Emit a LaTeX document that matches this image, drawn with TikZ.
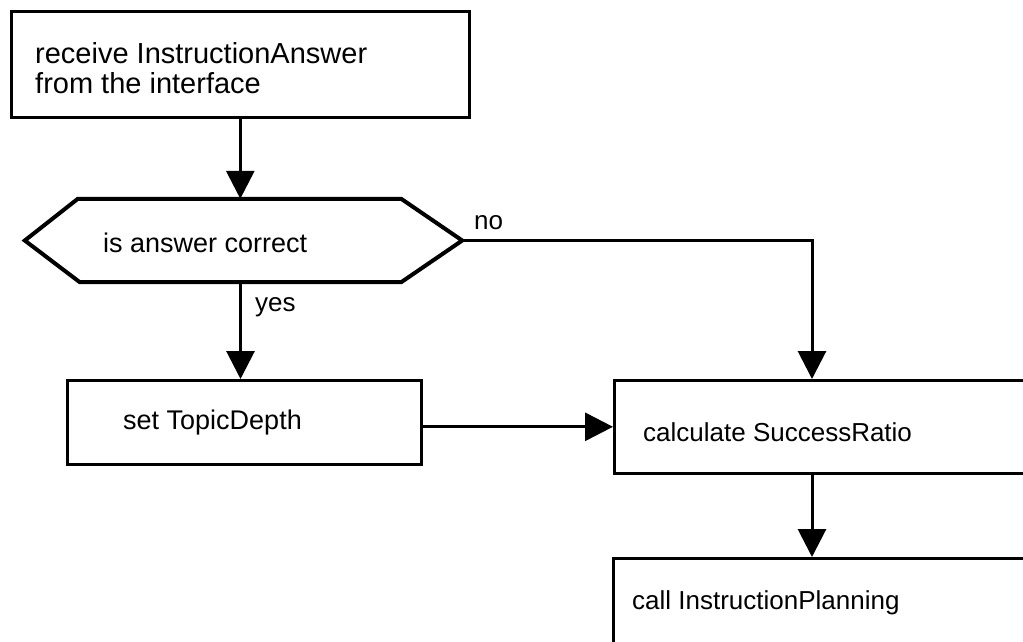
\documentclass[tikz,border=0pt]{standalone}
\usepackage{fontspec}
\setmainfont{Liberation Sans}
\usetikzlibrary{arrows.meta}

\begin{document}
\begin{tikzpicture}[x=1pt,y=-1pt,
  box/.style={draw,line width=2.6pt,rectangle,inner sep=0pt,anchor=north west},
  txt/.style={anchor=west,inner sep=0pt,align=left,font=\fontsize{26}{28.5}\selectfont},
  bigtxt/.style={txt,font=\fontsize{29}{30}\selectfont},
  midtxt/.style={txt,font=\fontsize{27}{29}\selectfont},
  flow/.style={line width=3pt,-{Triangle[width=28pt,length=28pt]}}]
  \useasboundingbox (0,0) rectangle (1023,641);
  \clip (0,0) rectangle (1023,641);

  % process boxes (the right-hand ones run off the page edge)
  \node[box,minimum width=458pt,minimum height=106pt] (recv) at (10,10) {};
  \node[box,minimum width=354pt,minimum height=84pt]  (setd) at (66,379) {};
  \node[box,minimum width=500pt,minimum height=93pt]  (calc) at (613,379) {};
  \node[box,minimum width=500pt,minimum height=150pt] (plan) at (612,557) {};

  % decision: outline frame as a hexagon
  \node[minimum width=437pt,minimum height=83pt,inner sep=0pt] (dec) at (243.5,240.5) {};
  \draw[line width=4pt,line join=miter]
    (dec.west) -- ([xshift=53pt]dec.north west) -- ([xshift=-61pt]dec.north east)
    -- (dec.east) -- ([xshift=-61pt]dec.south east) -- ([xshift=55pt]dec.south west) -- cycle;

  % texts
  \node[bigtxt] (trecv) at (35,68) {receive InstructionAnswer\\from the interface};
  \node[midtxt] (tdec)  at (103,243) {is answer correct};
  \node[txt] (tno)   at (474,223) {no};
  \node[txt] (tyes)  at (255,307) {yes};
  \node[midtxt] (tsetd) at (123,423) {set TopicDepth};
  \node[txt] (tcalc) at (643,432) {calculate SuccessRatio};
  \node[txt] (tplan) at (632,603) {call InstructionPlanning};

  % connectors
  \coordinate (calcin) at ([xshift=199pt]calc.north west);
  \coordinate (calcout) at ([xshift=199pt]calc.south west);
  \draw[flow] (recv.south) -- (recv.south |- dec.north);
  \draw[flow] ([xshift=-3pt]dec.south) -- ([xshift=-3pt]dec.south |- setd.north);
  \draw[flow] (dec.east) -| (calcin);
  \draw[flow] (calc.west -| setd.east) -- (calc.west);
  \draw[flow] (calcout) -- (calcout |- plan.north);
\end{tikzpicture}
\end{document}
